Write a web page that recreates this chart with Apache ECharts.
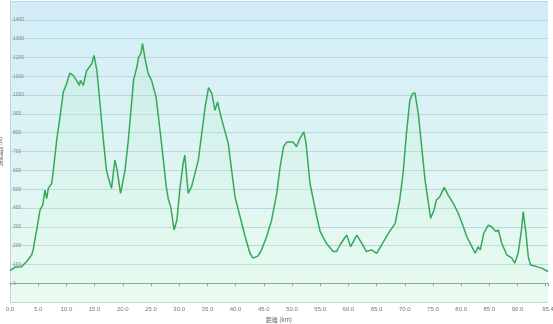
<!DOCTYPE html>
<html><head><meta charset="utf-8">
<script src="https://cdn.jsdelivr.net/npm/echarts@6/dist/echarts.min.js"></script>
<style>html,body{margin:0;padding:0;background:#fff}#c{width:553px;height:324px}</style>
</head><body><div id="c"></div>
<script>
const distanceKm = [0,0.9,2.07,2.95,3.84,4.1,4.73,5.32,5.8,6.2,6.5,6.8,7.4,7.68,8.28,8.87,9.45,10.05,10.6,11.2,11.8,12.3,12.5,13.0,13.3,13.6,14.1,14.5,14.9,15.4,15.96,16.5,17.1,17.4,18.0,18.6,19.0,19.6,20.4,20.98,21.6,21.9,22.5,22.8,23.2,23.5,23.9,24.5,25.1,25.9,26.6,27.2,27.7,28.1,28.5,29.1,29.6,30.1,30.7,31.0,31.6,32.2,33.4,34.0,34.6,35.2,35.8,36.35,36.8,37.5,37.8,38.7,39.3,39.9,40.8,41.7,42.55,43.1,44.0,44.6,45.5,46.4,47.3,47.9,48.5,49.1,50.2,50.8,51.4,52.1,52.5,53.2,53.8,54.4,55.0,56.1,57.3,57.9,58.5,59.7,60.4,61.5,62.4,63.2,64.1,65.0,65.9,67.1,68.3,69.1,69.7,70.3,70.9,71.4,71.8,72.4,73.0,73.6,74.2,74.6,75.2,75.6,76.2,77.0,77.7,78.6,79.5,80.4,81.0,81.9,82.5,83.0,83.4,84.0,84.8,85.4,86.2,86.6,87.2,88.1,89.0,89.5,90.1,90.7,91.0,91.5,91.9,92.3,93.4,94.3,95.4];
const elevationM = [67,85,88,115,150,177,283,389,415,495,450,505,530,600,760,884,1016,1061,1117,1105,1078,1052,1078,1052,1043,1131,1149,1167,1211,1131,955,778,601,566,504,654,601,477,601,760,972,1078,1149,1202,1220,1273,1202,1114,1078,990,813,654,513,442,406,283,336,495,637,681,477,513,654,796,937,1040,1008,919,963,875,866,743,601,459,353,247,159,133,145,177,247,336,477,619,725,751,751,725,769,804,743,530,442,353,274,212,168,168,203,256,194,256,212,168,177,159,203,265,318,442,584,796,972,1008,1011,902,725,548,424,345,389,442,459,509,468,424,371,300,247,194,159,194,177,265,309,300,274,283,212,150,133,106,159,283,380,265,141,97,88,80,62];
const xTickLabels = ['0.0','5.0','10.0','15.0','20.0','25.0','30.0','35.0','40.0','45.0','50.0','55.0','60.0','65.0','70.0','75.0','80.0','85.0','90.0','95.4'];
const xName = '距離 (km)';
const yName = '海拔高度 (m)';

const points = distanceKm.map((d,i)=>[d, elevationM[i]]);
const chart = echarts.init(document.getElementById('c'), null, {renderer:'canvas'});
chart.setOption({
  animation:false,
  grid:{left:10,right:5,top:1,bottom:22,show:true,borderWidth:0,containLabel:false,outerBoundsMode:'none',
    backgroundColor:new echarts.graphic.LinearGradient(0,0,0,1,[{offset:0,color:'#d2edf8'},{offset:1,color:'#e9fbf0'}])},
  xAxis:{type:'value',min:0,max:95.4,interval:5,
    name:xName,nameLocation:'middle',nameGap:12,nameTextStyle:{fontSize:6,color:'#666',fontFamily:'Noto Sans CJK JP'},
    axisLine:{lineStyle:{color:'#9a9a9a'}},
    axisTick:{show:true,length:3,lineStyle:{color:'#9a9a9a'}},
    axisLabel:{fontSize:6,color:'#777',margin:4,formatter:v=>{
      if (Math.abs(v-95.4)<0.01) return xTickLabels[xTickLabels.length-1];
      const idx = Math.round(v/5); if (Math.abs(v-idx*5)>0.01 || idx>=xTickLabels.length-1) return '';
      return xTickLabels[idx];}},
    splitLine:{show:false}},
  yAxis:{type:'value',min:-100,max:1500,interval:100,
    name:yName,nameLocation:'middle',nameGap:4,nameRotate:90,nameTextStyle:{fontSize:5,color:'#555',fontFamily:'Noto Sans CJK JP'},
    axisLine:{show:true,lineStyle:{color:'#bcd6de'}},axisTick:{show:false},
    axisLabel:{inside:true,fontSize:5,color:'#888',margin:3,showMinLabel:false,showMaxLabel:false,formatter:v=>String(v)},
    splitLine:{lineStyle:{color:'#bdd7df',width:1}}},
  series:[{type:'line',data:points,showSymbol:false,symbol:'none',
    lineStyle:{color:'#35a957',width:1.5},
    areaStyle:{color:new echarts.graphic.LinearGradient(0,0,0,1,[{offset:0,color:'rgba(170,230,190,0.35)'},{offset:1,color:'rgba(220,250,228,0.2)'}])}}]
});
</script></body></html>
